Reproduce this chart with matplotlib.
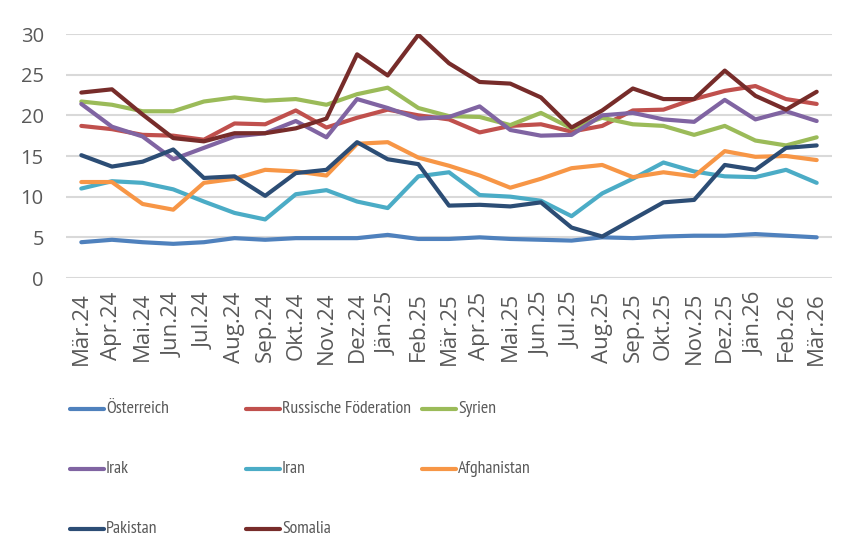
import matplotlib
matplotlib.use("Agg")
import matplotlib.pyplot as plt
from matplotlib.lines import Line2D

months = ["Mär.24", "Apr.24", "Mai.24", "Jun.24", "Jul.24", "Aug.24", "Sep.24",
          "Okt.24", "Nov.24", "Dez.24", "Jän.25", "Feb.25", "Mär.25", "Apr.25",
          "Mai.25", "Jun.25", "Jul.25", "Aug.25", "Sep.25", "Okt.25", "Nov.25",
          "Dez.25", "Jän.26", "Feb.26", "Mär.26"]

oesterreich = [4.4, 4.7, 4.4, 4.2, 4.4, 4.9, 4.7, 4.9, 4.9, 4.9, 5.3, 4.8, 4.8,
               5.0, 4.8, 4.7, 4.6, 5.0, 4.9, 5.1, 5.2, 5.2, 5.4, 5.2, 5.0]
russland = [18.7, 18.3, 17.6, 17.5, 17.0, 19.0, 18.9, 20.6, 18.5, 19.7, 20.7, 20.0, 19.5,
            17.9, 18.7, 18.9, 18.0, 18.7, 20.6, 20.7, 22.0, 23.0, 23.6, 22.0, 21.4]
syrien = [21.7, 21.3, 20.5, 20.5, 21.7, 22.2, 21.8, 22.0, 21.3, 22.6, 23.4, 20.9, 19.9,
          19.8, 18.8, 20.3, 18.4, 19.7, 18.9, 18.7, 17.6, 18.7, 16.9, 16.3, 17.3]
irak = [21.4, 18.6, 17.4, 14.6, 16.0, 17.4, 17.8, 19.3, 17.3, 22.0, 20.9, 19.6, 19.8,
        21.1, 18.2, 17.5, 17.6, 20.0, 20.3, 19.5, 19.2, 21.9, 19.5, 20.5, 19.3]
iran = [11.0, 11.9, 11.7, 10.9, 9.4, 8.0, 7.2, 10.3, 10.8, 9.4, 8.6, 12.5, 13.0,
        10.2, 10.0, 9.5, 7.6, 10.4, 12.2, 14.2, 13.1, 12.5, 12.4, 13.3, 11.7]
afghanistan = [11.8, 11.8, 9.1, 8.4, 11.7, 12.2, 13.3, 13.1, 12.6, 16.5, 16.7, 14.8, 13.8,
               12.6, 11.1, 12.2, 13.5, 13.9, 12.4, 13.0, 12.5, 15.6, 14.9, 15.0, 14.5]
pakistan = [15.1, 13.7, 14.3, 15.8, 12.3, 12.5, 10.1, 12.9, 13.3, 16.7, 14.6, 14.0, 8.9,
            9.0, 8.8, 9.3, 6.2, 5.1, 7.2, 9.3, 9.6, 13.9, 13.3, 16.0, 16.3]
somalia = [22.8, 23.2, 20.1, 17.2, 16.8, 17.8, 17.8, 18.4, 19.6, 27.5, 24.9, 29.9, 26.4,
           24.1, 23.9, 22.2, 18.5, 20.6, 23.3, 22.0, 22.0, 25.5, 22.4, 20.7, 22.9]

series_names = ["Österreich", "Russische Föderation", "Syrien", "Irak", "Iran",
                "Afghanistan", "Pakistan", "Somalia"]
series_values = [oesterreich, russland, syrien, irak, iran, afghanistan, pakistan, somalia]
colors = ["#4F81BD", "#C0504D", "#9BBB59", "#8064A2", "#4BACC6",
          "#F79646", "#2C4D75", "#772C2A"]
y_ticks = [0, 5, 10, 15, 20, 25, 30]

text_color = "#595959"
grid_color = "#D9D9D9"

W, H = 848, 554
fig = plt.figure(figsize=(W / 100, H / 100), dpi=100)
ax = fig.add_axes([66 / W, 1 - 278 / H, (832 - 66) / W, (278 - 34) / H])

x = list(range(len(months)))
for name, vals, c in zip(series_names, series_values, colors):
    ax.plot(x, vals, color=c, lw=3.0, solid_capstyle="round",
            solid_joinstyle="round", label=name)

ax.set_xlim(-0.5, len(months) - 0.5)
ax.set_ylim(0, 30)
ax.set_yticks(y_ticks)
ax.set_xticks(x)
ax.set_xticklabels(months, rotation=90, fontsize=16, family="Open Sans",
                   color=text_color)
for lbl in ax.get_yticklabels():
    lbl.set_fontsize(14.5)
    lbl.set_family("Open Sans")
    lbl.set_color(text_color)
ax.tick_params(axis="both", length=0)
ax.tick_params(axis="y", pad=16)
ax.tick_params(axis="x", pad=10)
for s in ax.spines.values():
    s.set_visible(False)
ax.yaxis.grid(True, color=grid_color, lw=1.5)
ax.set_axisbelow(True)

# legend laid out in three fixed-width columns
col_x = [70, 246, 422]
row_y = [409, 469, 529]
for k, (name, c) in enumerate(zip(series_names, colors)):
    cx = col_x[k % 3]
    cy = row_y[k // 3]
    fig.add_artist(Line2D([cx / W, (cx + 34) / W], [1 - cy / H, 1 - cy / H],
                          color=c, lw=3.0, solid_capstyle="round",
                          transform=fig.transFigure))
    fig.text((cx + 36) / W, 1 - cy / H, name, fontsize=12.8,
             family=["PT Sans Narrow", "DejaVu Sans"], fontweight="normal",
             color=text_color, va="center", ha="left")

fig.savefig("out.png", dpi=100)
